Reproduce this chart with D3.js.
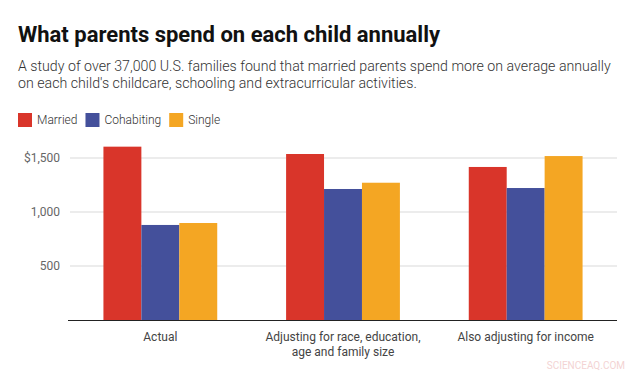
<!DOCTYPE html>
<html>
<head>
<meta charset="utf-8">
<script src="https://cdn.jsdelivr.net/npm/d3@7"></script>
<style>
  body { margin: 0; background: #fff; }
  svg { display: block; font-family: Roboto, "Open Sans", sans-serif; }
</style>
</head>
<body>
<svg width="635" height="376"></svg>
<script>
// Chart data
const groups = ["Actual", "Adjusting for race, education, age and family size", "Also adjusting for income"];
const groupLines = [["Actual"], ["Adjusting for race, education,", "age and family size"], ["Also adjusting for income"]];
const series = ["Married", "Cohabiting", "Single"];
const married = [1605, 1537, 1417];
const cohabiting = [880, 1213, 1222];
const single = [898, 1271, 1518];
const yTicks = [500, 1000, 1500];
const colors = ["#d9352a", "#44509b", "#f4a623"];

const values = [married, cohabiting, single];

const svg = d3.select("svg");

// Title and subtitle
svg.append("text")
    .attr("x", 18)
    .attr("y", 42)
    .attr("font-size", "22px")
    .attr("font-weight", "bold")
    .attr("fill", "#111")
    .text("What parents spend on each child annually");

const subtitle = [
  "A study of over 37,000 U.S. families found that married parents spend more on average annually",
  "on each child's childcare, schooling and extracurricular activities."
];
svg.selectAll(".sub")
  .data(subtitle)
  .enter().append("text")
    .attr("class", "sub")
    .attr("x", 18)
    .attr("y", (d, i) => 71 + i * 17)
    .attr("font-size", "14.2px")
    .attr("font-weight", 300)
    .attr("fill", "#333")
    .text(d => d);

// Legend
const legend = svg.append("g").attr("transform", "translate(18,113)");
let lx = 0;
series.forEach((s, i) => {
  const item = legend.append("g").attr("transform", `translate(${lx},0)`);
  item.append("rect")
      .attr("width", 14)
      .attr("height", 14)
      .attr("fill", colors[i]);
  const t = item.append("text")
      .attr("x", 19)
      .attr("y", 11)
      .attr("font-size", "12px")
      .attr("font-weight", 300)
      .attr("fill", "#333")
      .text(s);
  lx += 19 + t.node().getComputedTextLength() + 8;
});

// Scales
const x0 = d3.scaleBand()
    .domain(groups)
    .range([69, 617])
    .paddingInner(0.377)
    .paddingOuter(0.1885);

const x1 = d3.scaleBand()
    .domain(series)
    .range([0, x0.bandwidth()]);

const y = d3.scaleLinear()
    .domain([0, 1500])
    .range([320, 158]);

// Gridlines
svg.append("g")
  .selectAll("line")
  .data(yTicks)
  .enter().append("line")
    .attr("x1", 70)
    .attr("x2", 617)
    .attr("y1", d => y(d))
    .attr("y2", d => y(d))
    .attr("stroke", "#d9d9d9")
    .attr("stroke-width", 1);

// Y labels
svg.append("g")
  .selectAll("text")
  .data(yTicks)
  .enter().append("text")
    .attr("x", 60)
    .attr("y", d => y(d) + 4)
    .attr("text-anchor", "end")
    .attr("font-size", "12px")
    .attr("fill", "#666")
    .text(d => (d === 1500 ? "$" : "") + d3.format(",")(d));

// Bars
groups.forEach((g, gi) => {
  svg.append("g")
      .attr("transform", `translate(${x0(g)},0)`)
    .selectAll("rect")
    .data(series)
    .enter().append("rect")
      .attr("x", s => x1(s))
      .attr("width", x1.bandwidth())
      .attr("y", (s, si) => y(values[si][gi]))
      .attr("height", (s, si) => 320 - y(values[si][gi]))
      .attr("fill", (s, si) => colors[si]);
});

// Baseline
svg.append("line")
    .attr("x1", 68)
    .attr("x2", 617)
    .attr("y1", 320.5)
    .attr("y2", 320.5)
    .attr("stroke", "#222")
    .attr("stroke-width", 1.2);

// Category labels
groups.forEach((g, gi) => {
  svg.append("g")
    .selectAll("text")
    .data(groupLines[gi])
    .enter().append("text")
      .attr("x", x0(g) + x0.bandwidth() / 2)
      .attr("y", (d, i) => 341 + i * 15)
      .attr("text-anchor", "middle")
      .attr("font-size", "12px")
      .attr("fill", "#444")
      .text(d => d);
});

// Watermark
svg.append("text")
    .attr("x", 625)
    .attr("y", 369)
    .attr("text-anchor", "end")
    .attr("font-size", "10px")
    .attr("fill", "#f3d3d3")
    .text("SCIENCEAQ.COM");
</script>
</body>
</html>
